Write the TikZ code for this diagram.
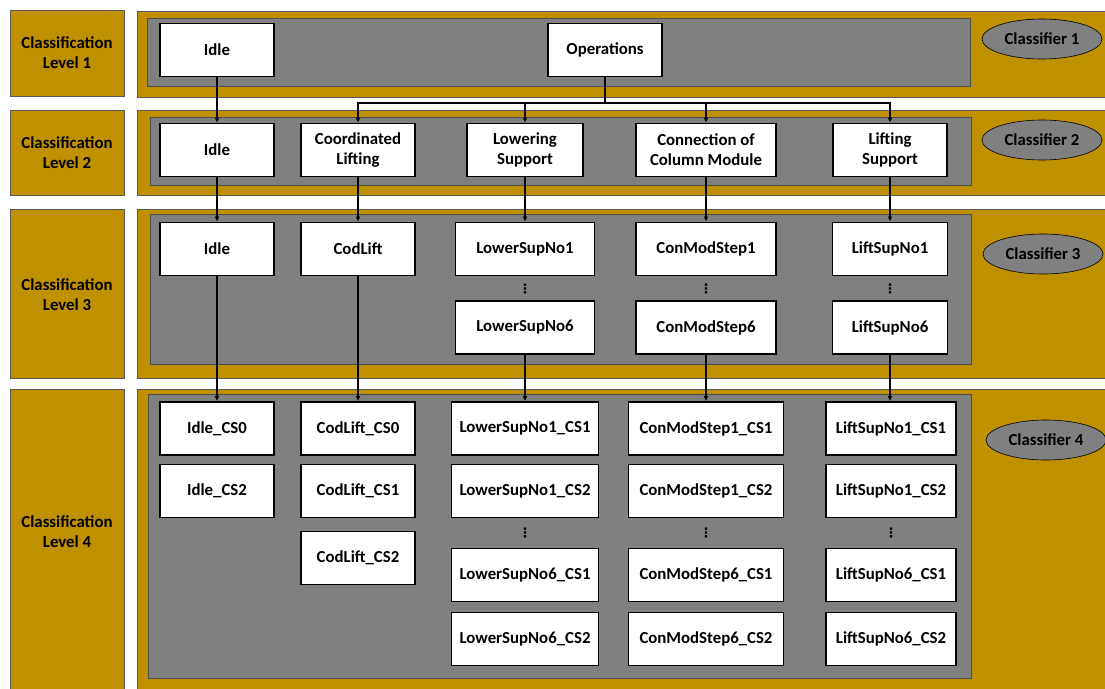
\documentclass[tikz,border=0pt]{standalone}
\usepackage{fontspec}
\setmainfont{Carlito}
\newfontfamily\symfont{DejaVu Sans}
\usetikzlibrary{positioning,arrows.meta,shapes.geometric}
\definecolor{gold}{HTML}{BF9000}
\definecolor{panel}{HTML}{808080}

\begin{document}
\begin{tikzpicture}[x=1pt, y=-1pt,
  font=\bfseries\fontsize{16.8}{20}\selectfont,
  band/.style={draw=black!65, fill=gold, line width=0.8pt},
  panelbox/.style={draw=black!70, fill=panel, line width=0.8pt},
  level/.style={align=center, inner sep=0pt},
  cls/.style={draw=black, line width=1.8pt, fill=white, align=center,
    inner sep=0pt, minimum width=#1, minimum height=53pt},
  cls/.default=114pt,
  clf/.style={ellipse, draw=black, fill=panel, line width=0.6pt,
    minimum width=120pt, minimum height=40pt, inner sep=0pt},
  more/.style={inner sep=0pt, font=\symfont\bfseries\fontsize{13}{13}\selectfont},
  flow/.style={-{Latex[length=5pt,width=5pt]}, line width=1.8pt}]
\useasboundingbox (0,0) rectangle (1105,688);
\clip (0,0) rectangle (1105,688);

% level bands
\draw[band] (10,10) rectangle (124,96);
\draw[band] (10,110) rectangle (124,195);
\draw[band] (10,209) rectangle (124,378);
\draw[band] (10,389) rectangle (124,700);
\draw[band] (137,11) rectangle (1115,97);
\draw[band] (137,110) rectangle (1115,195);
\draw[band] (137,209) rectangle (1115,378);
\draw[band] (137,389) rectangle (1115,700);
\draw[panelbox] (147,18) rectangle (970,86);
\draw[panelbox] (150,117) rectangle (971,185);
\draw[panelbox] (150,214) rectangle (971,364);
\draw[panelbox] (148,394) rectangle (971,678);

\node[level] (lvl1) at (67,53) {Classification\\Level 1};
\node[level] (lvl2) at (67,153) {Classification\\Level 2};
\node[level] (lvl3) at (67,295) {Classification\\Level 3};
\node[level] (lvl4) at (67,532) {Classification\\Level 4};

\node[clf] (clf1) at (1042,39) {Classifier 1};
\node[clf] (clf2) at (1042,140) {Classifier 2};
\node[clf] (clf3) at (1043,254) {Classifier 3};
\node[clf] (clf4) at (1046,440) {Classifier 4};

% level 1
\node[cls] (idle1) at (217,50) {Idle};
\node[cls] (ops) at (605,50) {Operations};

% level 2
\node[cls] (idle2) at (217,150) {Idle};
\node[cls] (colift) at (358,150) {Coordinated\\Lifting};
\node[cls=116pt] (lowsup) at (525,150) {Lowering\\Support};
\node[cls=140pt] (conmod) at (706,150) {Connection of\\Column Module};
\node[cls] (liftsup) at (890,150) {Lifting\\Support};

% level 3
\node[cls] (idle3) at (217,249) {Idle};
\node[cls] (codlift) at (358,249) {CodLift};
\node[cls=139pt] (lsn1) at (525,249) {LowerSupNo1};
\node[more] (lsnd) at (525,289) {⋮};
\node[cls=139pt] (lsn6) at (525,327.5) {LowerSupNo6};
\node[cls=140pt] (cms1) at (706,249) {ConModStep1};
\node[more] (cmsd) at (706,289) {⋮};
\node[cls=140pt] (cms6) at (706,327.5) {ConModStep6};
\node[cls=115pt] (lift1) at (890,249) {LiftSupNo1};
\node[more] (liftd) at (890,289) {⋮};
\node[cls=115pt] (lift6) at (890,327.5) {LiftSupNo6};

% level 4
\node[cls] (idlecs0) at (217,428.5) {Idle\_CS0};
\node[cls] (idlecs2) at (217,491) {Idle\_CS2};
\node[cls] (codcs0) at (358,428.5) {CodLift\_CS0};
\node[cls] (codcs1) at (358,491) {CodLift\_CS1};
\node[cls] (codcs2) at (358,558) {CodLift\_CS2};
\node[cls=147pt] (lsn1cs1) at (525,428.5) {LowerSupNo1\_CS1};
\node[cls=147pt] (lsn1cs2) at (525,491) {LowerSupNo1\_CS2};
\node[more] (lsncsd) at (525,533) {⋮};
\node[cls=147pt] (lsn6cs1) at (525,575) {LowerSupNo6\_CS1};
\node[cls=147pt] (lsn6cs2) at (525,639) {LowerSupNo6\_CS2};
\node[cls=155pt] (cms1cs1) at (706,428.5) {ConModStep1\_CS1};
\node[cls=155pt] (cms1cs2) at (706,491) {ConModStep1\_CS2};
\node[more] (cmscsd) at (706,533) {⋮};
\node[cls=155pt] (cms6cs1) at (706,575) {ConModStep6\_CS1};
\node[cls=155pt] (cms6cs2) at (706,639) {ConModStep6\_CS2};
\node[cls=130pt] (lift1cs1) at (891,428.5) {LiftSupNo1\_CS1};
\node[cls=130pt] (lift1cs2) at (891,491) {LiftSupNo1\_CS2};
\node[more] (liftcsd) at (891,533) {⋮};
\node[cls=130pt] (lift6cs1) at (891,575) {LiftSupNo6\_CS1};
\node[cls=130pt] (lift6cs2) at (891,639) {LiftSupNo6\_CS2};

% connectors
\coordinate (split) at (605,103);
\draw[line width=1.8pt] (ops) -- (split);
\draw[flow] (split) -| (colift);
\draw[flow] (split) -| (lowsup);
\draw[flow] (split) -| (conmod);
\draw[flow] (split) -| (liftsup);
\draw[flow] (idle1) -- (idle2);
\draw[flow] (idle2) -- (idle3);
\draw[flow] (colift) -- (codlift);
\draw[flow] (lowsup) -- (lsn1);
\draw[flow] (conmod) -- (cms1);
\draw[flow] (liftsup) -- (lift1);
\draw[flow] (idle3) -- (idlecs0);
\draw[flow] (codlift) -- (codcs0);
\draw[flow] (lsn6) -- (lsn1cs1);
\draw[flow] (cms6) -- (cms1cs1);
\draw[flow] (lift6.south) -- (lift1cs1.north -| lift6.south);
\end{tikzpicture}
\end{document}
